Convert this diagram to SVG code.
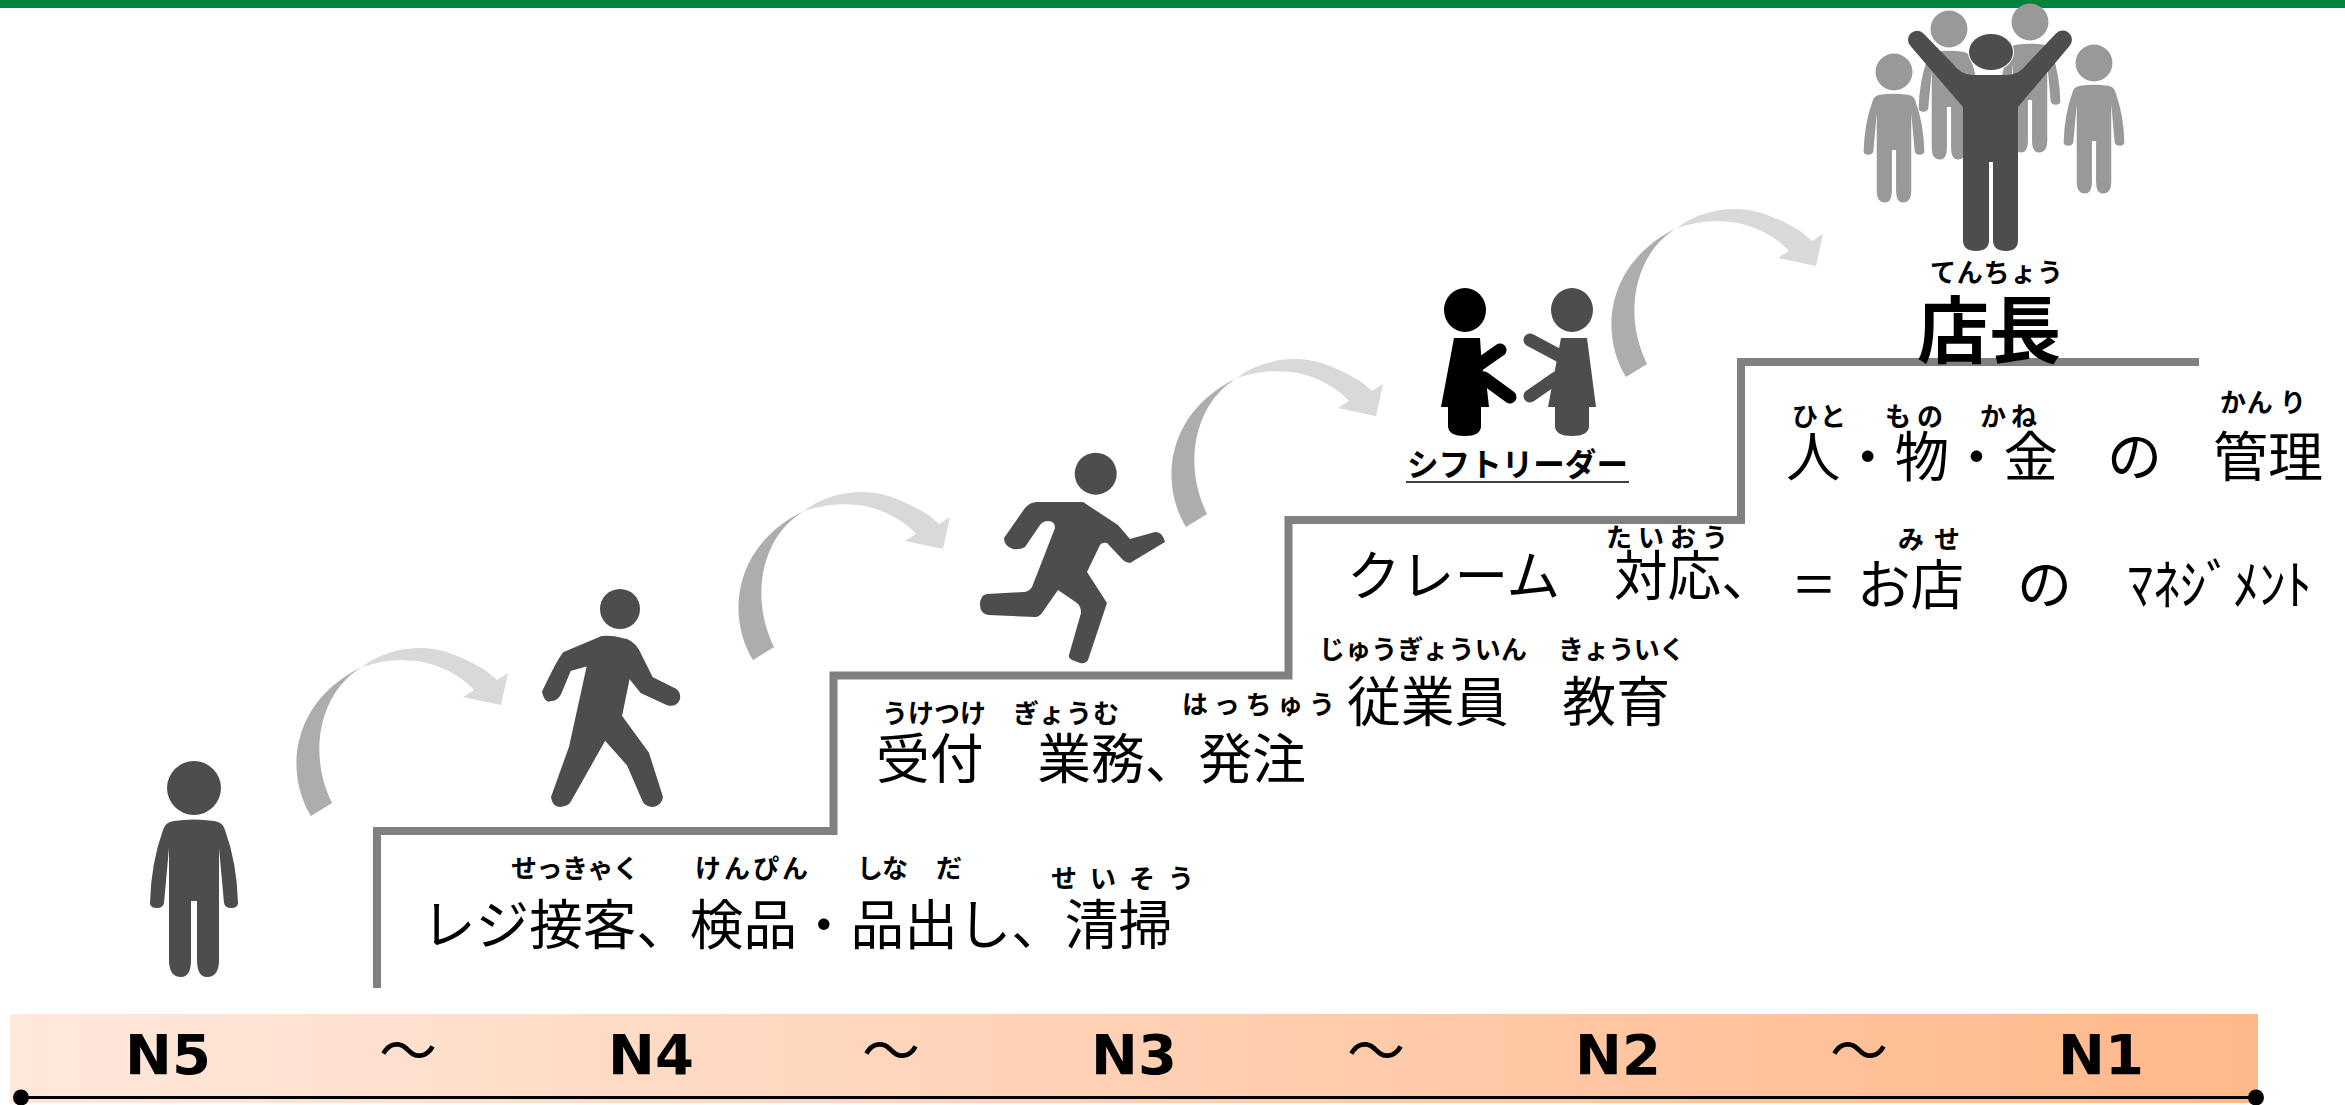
<svg xmlns="http://www.w3.org/2000/svg" width="2345" height="1105" viewBox="0 0 2345 1105">
<style>
.jp{font-family:"Noto Sans CJK JP","Noto Sans",sans-serif;fill:#000}
.main{font-size:54px;font-weight:400}
.ruby{font-size:26px;font-weight:700}
.lv{font-family:"DejaVu Sans",sans-serif;font-weight:700;font-size:56px;text-anchor:middle;fill:#000}
.til{font-family:"Noto Sans CJK JP",sans-serif;font-size:58px;text-anchor:middle;fill:#000}
.dark{fill:#4d4d4d}
.grey{fill:#999}
</style>
<defs>
<linearGradient id="band" x1="0" x2="1" y1="0" y2="0"><stop offset="0" stop-color="#ffe8dc"/><stop offset="1" stop-color="#ffb88a"/></linearGradient>
<path id="personBody" d="M-20 33Q0 30 20 33Q29 34 31 42Q43 75 44 115Q44 120 37 120Q31 120 30 115L25 60V172Q25 189 13 189Q3 189 3 172V113H-3V172Q-3 189-13 189Q-25 189-25 172V60L-30 115Q-31 120-37 120Q-44 120-44 115Q-43 75-31 42Q-29 34-20 33Z"/>
<g id="hop">
<path fill="#adadad" d="M311 816C283 770 293 700 362 667C322 690 306 750 332 803Z"/>
<path fill="#d9d9d9" d="M362 667C372 659 392 648 421 648C445 648 468 660 485 670C490 674 494 677 497 680L508 673L501 705L463 697L474 690C465 680 449 668 423 662C408 659 385 659 362 667Z"/>
</g>
</defs>
<rect width="2345" height="1105" fill="#fff"/>
<rect id="top-bar" width="2345" height="8" fill="#00843d"/>
<g id="connectors">
<use href="#hop"/>
<use href="#hop" x="442" y="-156"/>
<use href="#hop" x="875" y="-289"/>
<use href="#hop" x="1315" y="-439"/>
</g>
<g id="stairs"><path d="M377 988V831H833.500V675.500H1288.500V520H1741V362H2199" fill="none" stroke="#808080" stroke-width="8"/></g>
<g id="level-band">
<rect x="10" y="1014" width="2248" height="89" fill="url(#band)"/>
<line x1="21" x2="2256" y1="1097.500" y2="1097.500" stroke="#000" stroke-width="3"/>
<circle cx="21" cy="1097.500" r="8"/><circle cx="2256" cy="1097.500" r="8"/>
<text class="lv" x="168" y="1074">N5</text><text class="til" x="408" y="1072">～</text>
<text class="lv" x="651" y="1074">N4</text><text class="til" x="891" y="1072">～</text>
<text class="lv" x="1134" y="1074">N3</text><text class="til" x="1376" y="1072">～</text>
<text class="lv" x="1618" y="1074">N2</text><text class="til" x="1859" y="1072">～</text>
<text class="lv" x="2101" y="1074">N1</text>
</g>
<g id="person-n5" class="dark"><circle cx="194" cy="788" r="27"/><use href="#personBody" transform="translate(194 788)"/></g>
<g id="person-n4" class="dark"><circle cx="620" cy="609" r="20"/><path stroke="#4d4d4d" stroke-width="2" stroke-linejoin="round" d="M602 637L564 653Q558 660 543 692Q546 703 551 700Q557 700 560 694L570 670L588 665L570 747L552 797Q553 806 560 806Q568 805 570 801L605 739L628 765L644 802Q648 806 653 806Q661 804 662 797L648 753L621 716L629 677L641 692L667 704Q676 707 679 699Q680 693 676 690L652 678L638 650Q632 640 622 639Q612 636 602 637Z"/></g>
<g id="person-n3" class="dark"><circle cx="1095.700" cy="473.700" r="21"/><path d="M1037 502H1083L1118 525L1130 539L1155 532Q1162 531 1165 542L1130 563Q1126 563 1123 560L1107 543Q1102 542 1100 545L1087 572L1107 603L1088 660Q1085 664 1080 663L1072 660Q1068 658 1069 655L1081 613Q1081 606 1077 603L1058 590L1042 613Q1039 617 1035 617L988 615Q980 613 980 605Q980 595 987 594L1023 592Q1029 592 1032 587L1055 528Q1055 521 1048 521Q1043 521 1040 525L1025 547Q1020 550 1013 549Q1004 546 1004 538L1025 508Q1030 502 1037 502Z"/></g>
<g id="person-n2">
<ellipse cx="1465" cy="310" rx="21" ry="22"/>
<path d="M1454 338H1480L1482 368L1486 380L1489 407H1481V426Q1481 436 1465 436Q1448 436 1448 426V407H1441Z"/>
<path d="M1480 364L1500 350M1484 378L1510 397" stroke="#000" stroke-width="13" stroke-linecap="round" fill="none"/>
<g class="dark"><ellipse cx="1572" cy="310" rx="21" ry="22"/>
<path d="M1561 338H1587L1596 407H1589V426Q1589 436 1572 436Q1555 436 1555 426V407H1548Z"/>
<path d="M1530 340L1560 356M1530 396L1556 378" stroke="#4d4d4d" stroke-width="13" stroke-linecap="round" fill="none"/></g>
<text class="jp" x="1407" y="476" font-size="32" font-weight="700" textLength="221" lengthAdjust="spacingAndGlyphs">シフトリーダー</text>
<line x1="1406" x2="1629" y1="482" y2="482" stroke="#000" stroke-width="1.500"/>
</g>
<g id="person-n1">
<g class="grey">
<circle cx="1894" cy="72" r="18.500"/><use href="#personBody" transform="translate(1894 72) scale(.69)"/>
<circle cx="1949" cy="29" r="18.500"/><use href="#personBody" transform="translate(1949 29) scale(.69)"/>
<circle cx="2030" cy="22" r="18.500"/><use href="#personBody" transform="translate(2030 22) scale(.69)"/>
<circle cx="2094" cy="63" r="18.500"/><use href="#personBody" transform="translate(2094 63) scale(.69)"/>
</g>
<g class="dark"><path d="M1910.500 46A9 9 0 0 1 1923.500 33.500L1953 64Q1960 74 1972 75H2008Q2020 74 2027 64L2056 33.500A9 9 0 0 1 2069.500 46L2018 107V240Q2018 251 2006 251Q1993 251 1993 240V162H1989V240Q1989 251 1976 251Q1963 251 1963 240V107Z"/>
<ellipse cx="1991" cy="52" rx="22" ry="18" stroke="#fff" stroke-width="2" paint-order="stroke"/></g>
<text class="jp" x="1917" y="357" font-size="73" font-weight="700" textLength="144" lengthAdjust="spacingAndGlyphs">店長</text>
<text class="jp ruby" x="1930" y="282" textLength="133">てんちょう</text>
</g>
<g id="step-n4-text">
<text class="jp main" x="422" y="945" textLength="750" lengthAdjust="spacingAndGlyphs">レジ接客、検品・品出し、清掃</text>
<text class="jp ruby" x="511" y="878" textLength="128">せっきゃく</text>
<text class="jp ruby" x="695" y="878" textLength="113">けんぴん</text>
<text class="jp ruby" x="857" y="878" textLength="51">しな</text>
<text class="jp ruby" x="936" y="878">だ</text>
<text class="jp ruby" x="1051" y="888" textLength="143">せいそう</text>
</g>
<g id="step-n3-text">
<text class="jp main" x="876" y="779" textLength="430" lengthAdjust="spacingAndGlyphs">受付　業務、発注</text>
<text class="jp ruby" x="882" y="723" textLength="104">うけつけ</text>
<text class="jp ruby" x="1013" y="723" textLength="106">ぎょうむ</text>
<text class="jp ruby" x="1182" y="714" textLength="153">はっちゅう</text>
</g>
<g id="step-n2-text">
<text class="jp main" x="1347" y="722" textLength="323" lengthAdjust="spacingAndGlyphs">従業員　教育</text>
<text class="jp main" x="1347" y="596" textLength="428" lengthAdjust="spacingAndGlyphs">クレーム　対応、</text>
<text class="jp ruby" x="1319" y="659" textLength="208">じゅうぎょういん</text>
<text class="jp ruby" x="1558" y="659" textLength="127">きょういく</text>
<text class="jp ruby" x="1606" y="547" textLength="122">たいおう</text>
</g>
<g id="step-n1-text">
<text class="jp main" x="1786" y="477" textLength="272" lengthAdjust="spacingAndGlyphs">人・物・金</text>
<text class="jp main" x="2107" y="477" textLength="55" lengthAdjust="spacingAndGlyphs">の</text>
<text class="jp main" x="2213" y="477" textLength="110" lengthAdjust="spacingAndGlyphs">管理</text>
<text class="jp ruby" x="1792" y="426" textLength="54">ひと</text>
<text class="jp ruby" x="1885" y="426" textLength="58">もの</text>
<text class="jp ruby" x="1980" y="426" textLength="57">かね</text>
<text class="jp ruby" x="2220" y="412" textLength="86">かん り</text>
<text class="jp main" x="1795" y="604" textLength="38" lengthAdjust="spacingAndGlyphs" font-weight="700">=</text>
<text class="jp main" x="1857" y="605" textLength="107" lengthAdjust="spacingAndGlyphs">お店</text>
<text class="jp main" x="2017" y="605" textLength="55" lengthAdjust="spacingAndGlyphs">の</text>
<text class="jp main" x="2127" y="605" textLength="185" lengthAdjust="spacingAndGlyphs">ﾏﾈｼﾞﾒﾝﾄ</text>
<text class="jp ruby" x="1898" y="549" textLength="62">みせ</text>
</g>
</svg>
